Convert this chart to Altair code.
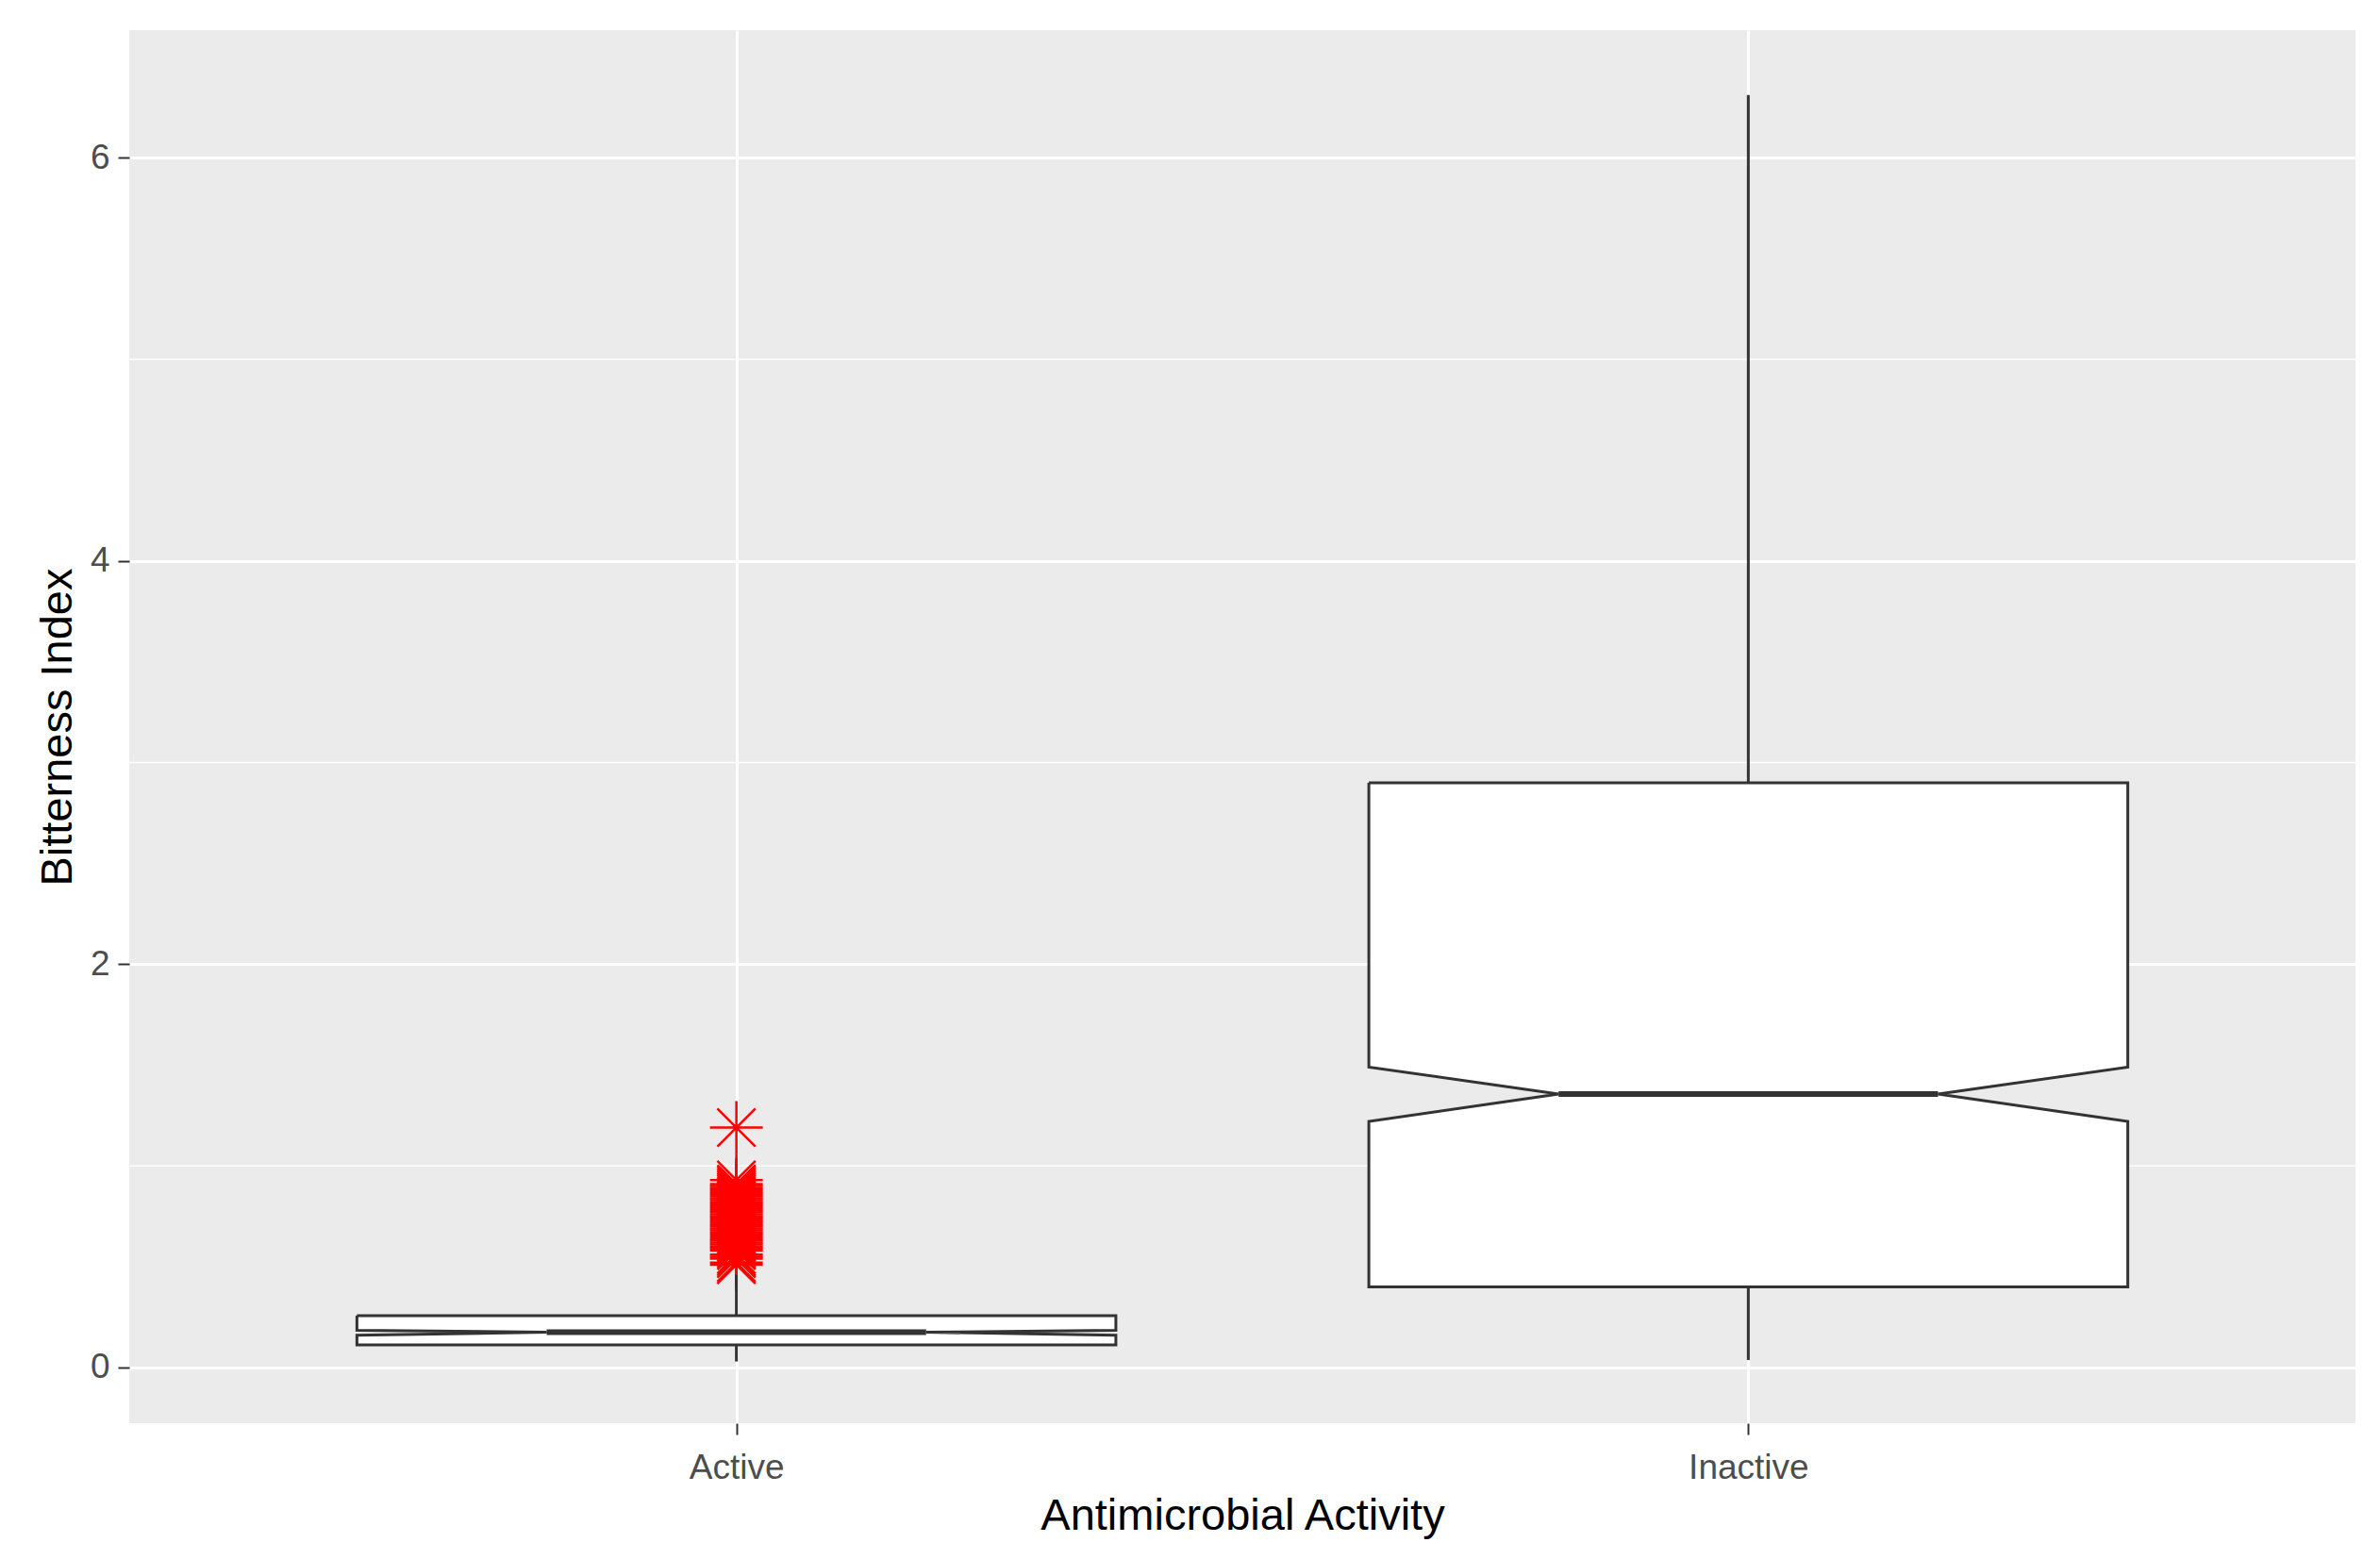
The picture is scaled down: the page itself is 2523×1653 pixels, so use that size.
import altair as alt
import pandas as pd

# ---- data ----
groups = ["Active", "Inactive"]
positions = [1, 2]
lower_whisker = [0.03, 0.037]
q1 = [0.112, 0.40]
notch_lower = [0.160, 1.22]
median = [0.175, 1.356]
notch_upper = [0.185, 1.49]
q3 = [0.257, 2.90]
upper_whisker = [0.46, 6.31]

outliers_active = [0.51, 0.52, 0.54, 0.55, 0.56, 0.58, 0.59, 0.60, 0.61, 0.62,
                   0.63, 0.64, 0.65, 0.66, 0.67, 0.68, 0.69, 0.70, 0.71, 0.72,
                   0.73, 0.74, 0.75, 0.76, 0.77, 0.78, 0.79, 0.80, 0.81, 0.82,
                   0.83, 0.84, 0.85, 0.86, 0.87, 0.88, 0.89, 0.90, 0.91, 0.93,
                   1.19]

y_major = [0, 2, 4, 6]
y_minor = [1, 3, 5]
box_half = 0.375
notch_half = 0.1875

# ---- tables built from the arrays ----
fill_rows, outline_rows, stat_rows = [], [], []
for i, g in enumerate(groups):
    p = positions[i]
    levels = [(q1[i], box_half), (notch_lower[i], box_half), (median[i], notch_half),
              (notch_upper[i], box_half), (q3[i], box_half)]
    for y, hw in levels:
        fill_rows.append({"group": g, "y": y, "x": p - hw, "x2": p + hw})
    path = [(p - box_half, q3[i]), (p - box_half, notch_upper[i]), (p - notch_half, median[i]),
            (p - box_half, notch_lower[i]), (p - box_half, q1[i]), (p + box_half, q1[i]),
            (p + box_half, notch_lower[i]), (p + notch_half, median[i]),
            (p + box_half, notch_upper[i]), (p + box_half, q3[i]), (p - box_half, q3[i])]
    for k, (x, y) in enumerate(path):
        outline_rows.append({"group": g, "x": x, "y": y, "o": k})
    stat_rows.append({"group": g, "x": p, "lw": lower_whisker[i], "q1": q1[i],
                      "q3": q3[i], "uw": upper_whisker[i], "med": median[i],
                      "ml": p - notch_half, "mr": p + notch_half})

fill_df = pd.DataFrame(fill_rows)
outline_df = pd.DataFrame(outline_rows)
stat_df = pd.DataFrame(stat_rows)
out_df = pd.DataFrame({"x": [positions[0]] * len(outliers_active), "y": outliers_active})
minor_df = pd.DataFrame({"y": y_minor})

# ---- scales / axes ----
xscale = alt.Scale(domain=[0.4, 2.6], nice=False, zero=False)
yscale = alt.Scale(domain=[-0.276, 6.632], nice=False, zero=False)
xaxis = alt.Axis(values=positions, title="Antimicrobial Activity",
                 labelExpr="datum.value == 1 ? 'Active' : 'Inactive'",
                 labelBaseline="middle", labelPadding=35, labelAlign="center",
                 titleX=1180, titleY=98, titleBaseline="middle", titleAnchor="start",
                 titleAlign="center")
yaxis = alt.Axis(values=y_major, title="Bitterness Index", format="d",
                 labelPadding=9, titleAngle=270, titleX=-76, titleY=738.5,
                 titleAlign="center", titleBaseline="middle", titleAnchor="start")


def X(field):
    return alt.X(field, type="quantitative", scale=xscale, axis=xaxis)


def Y(field):
    return alt.Y(field, type="quantitative", scale=yscale, axis=yaxis)


dark = "#333333"

minor = alt.Chart(minor_df).mark_rule(color="white", strokeWidth=1.6).encode(y=Y("y"))

whisk_up = alt.Chart(stat_df).mark_rule(color=dark, strokeWidth=3).encode(
    x=X("x"), y=Y("q3"), y2="uw")
whisk_lo = alt.Chart(stat_df).mark_rule(color=dark, strokeWidth=3).encode(
    x=X("x"), y=Y("lw"), y2="q1")

box_fill = alt.Chart(fill_df).mark_area(orient="horizontal", color="white", opacity=1).encode(
    y=Y("y"), x=X("x"), x2="x2", detail="group:N")

box_line = alt.Chart(outline_df).mark_line(color=dark, strokeWidth=3).encode(
    x=X("x"), y=Y("y"), order="o:Q", detail="group:N")

med = alt.Chart(stat_df).mark_rule(color=dark, strokeWidth=6).encode(
    x=X("ml"), x2="mr", y=Y("med"))

asterisk = "M-1,0L1,0M0,-1L0,1M-0.72,-0.72L0.72,0.72M-0.72,0.72L0.72,-0.72"
pts = alt.Chart(out_df).mark_point(shape=asterisk, filled=False, color="#FF0000",
                                   strokeWidth=2.5, size=3136, opacity=1).encode(
    x=X("x"), y=Y("y"))

chart = alt.layer(minor, pts, whisk_up, whisk_lo, box_fill, box_line, med).properties(
    width=2360, height=1477,
    background="white",
    autosize=alt.AutoSizeParams(type="none"),
    padding={"left": 129, "top": 24, "right": 18, "bottom": 130},
).configure_view(fill="#EBEBEB", stroke=None).configure_axis(
    grid=True, gridColor="white", gridWidth=3, domain=False,
    tickColor=dark, tickWidth=2, tickSize=12,
    labelColor="#4D4D4D", labelFont="Liberation Sans", labelFontSize=37,
    titleFont="Liberation Sans", titleFontSize=47, titleColor="black",
    titleFontWeight="normal",
)

chart.save("out.html", embed_options={"renderer": "svg", "actions": False})
